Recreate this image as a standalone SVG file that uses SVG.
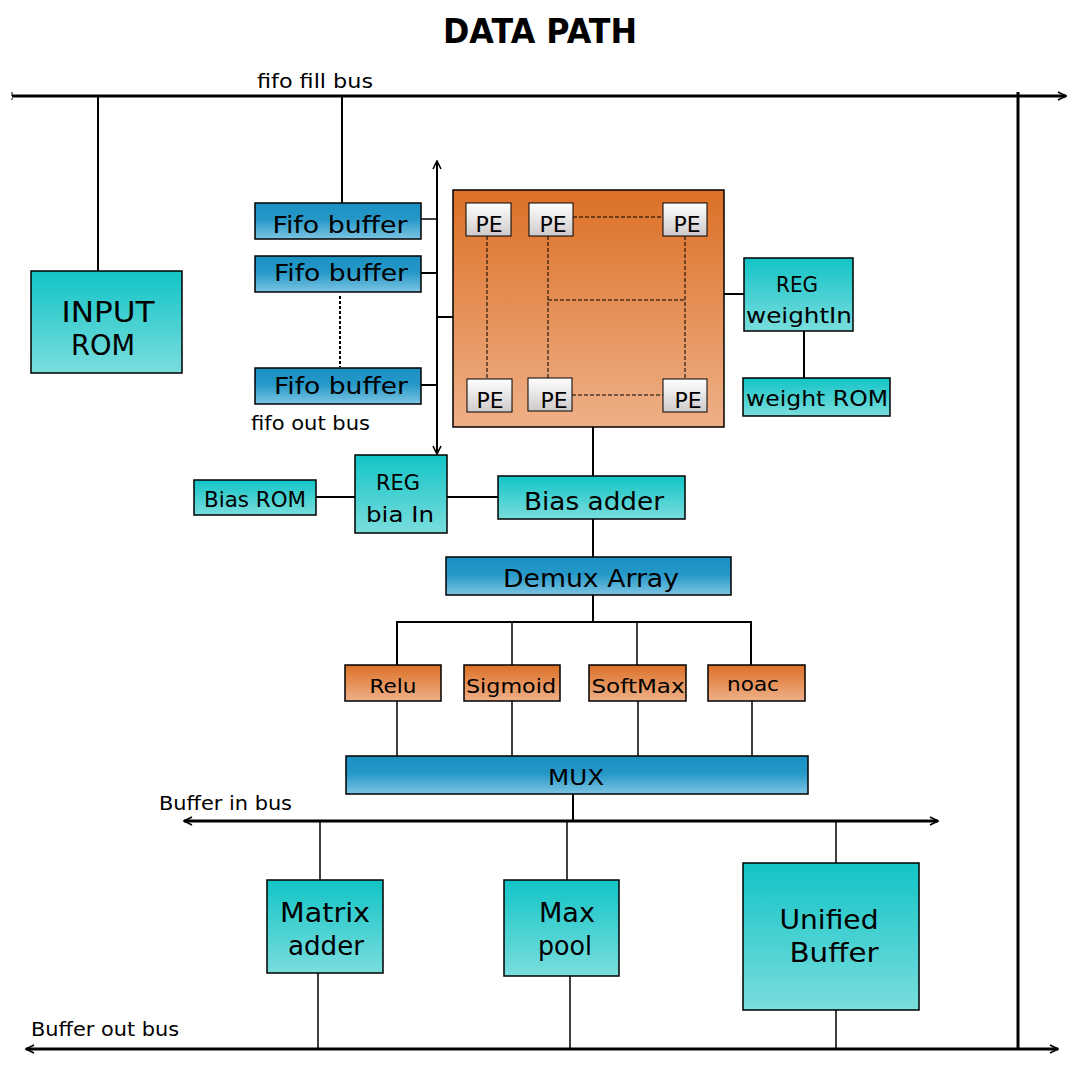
<svg xmlns="http://www.w3.org/2000/svg" width="1080" height="1080" viewBox="0 0 1080 1080">
<defs>
<linearGradient id="gTeal" x1="0" y1="0" x2="0" y2="1"><stop offset="0" stop-color="#12c4c6"/><stop offset="1" stop-color="#7adddd"/></linearGradient>
<linearGradient id="gBlue" x1="0" y1="0" x2="0" y2="1"><stop offset="0" stop-color="#1a90c2"/><stop offset="0.45" stop-color="#2598c8"/><stop offset="1" stop-color="#7cc4e2"/></linearGradient>
<linearGradient id="gOrange" x1="0" y1="0" x2="0" y2="1"><stop offset="0" stop-color="#dc7026"/><stop offset="1" stop-color="#efb088"/></linearGradient>
<linearGradient id="gPE" x1="0" y1="0" x2="0" y2="1"><stop offset="0" stop-color="#ffffff"/><stop offset="1" stop-color="#cfcaca"/></linearGradient>
<marker id="arr" viewBox="0 0 10 10" refX="9" refY="5" markerWidth="10" markerHeight="10" markerUnits="userSpaceOnUse" orient="auto-start-reverse">
<path d="M1,1 L9,5 L1,9" fill="none" stroke="#000" stroke-width="1.6"/>
</marker>
</defs>
<style>
text{font-family:"DejaVu Sans",sans-serif;fill:#000;text-anchor:middle}
.box{stroke:#000;stroke-width:1.5}
.teal{fill:url(#gTeal)}
.blue{fill:url(#gBlue)}
.orange{fill:url(#gOrange)}
.pe{fill:url(#gPE)}
.bus{stroke:#000;stroke-width:3;fill:none}
.ln{stroke:#000;stroke-width:2;fill:none}
.thin{stroke:#000;stroke-width:1.5;fill:none}
.dash{stroke:#000;stroke-width:1;stroke-dasharray:4 2;fill:none}
.lbl{text-anchor:start}
</style>
<rect width="1080" height="1080" fill="#fff"/>

<text x="540" y="43" font-size="34" font-weight="bold" textLength="194" lengthAdjust="spacingAndGlyphs">DATA PATH</text>

<g id="connectors">
<line class="bus" x1="12" y1="96" x2="1066" y2="96" marker-end="url(#arr)"/>
<line class="dash" x1="12" y1="92" x2="12" y2="100"/>
<line class="ln" x1="98" y1="96" x2="98" y2="271"/>
<line class="ln" x1="342" y1="96" x2="342" y2="203"/>
<line class="bus" x1="1018" y1="92" x2="1018" y2="1049"/>
<line class="dash" x1="340" y1="296" x2="340" y2="367" style="stroke-width:2;stroke-dasharray:3 2"/>
<line class="ln" x1="437" y1="454" x2="437" y2="161" marker-start="url(#arr)" marker-end="url(#arr)"/>
<line class="thin" x1="421" y1="219" x2="437" y2="219"/>
<line class="ln" x1="421" y1="273" x2="437" y2="273"/>
<line class="ln" x1="421" y1="385" x2="437" y2="385"/>
<line class="ln" x1="437" y1="317" x2="453" y2="317"/>
<line class="ln" x1="724" y1="294" x2="744" y2="294"/>
<line class="ln" x1="804" y1="331" x2="804" y2="378"/>
<line class="ln" x1="316" y1="497" x2="355" y2="497"/>
<line class="ln" x1="447" y1="497" x2="498" y2="497"/>
<line class="ln" x1="593" y1="427" x2="593" y2="476"/>
<line class="ln" x1="593" y1="519" x2="593" y2="557"/>
<line class="ln" x1="593" y1="595" x2="593" y2="622"/>
<polyline class="ln" points="397,665 397,622 751,622 751,665"/>
<line class="thin" x1="512" y1="622" x2="512" y2="665"/>
<line class="thin" x1="637" y1="622" x2="637" y2="665"/>
<line class="thin" x1="397" y1="701" x2="397" y2="756"/>
<line class="thin" x1="512" y1="701" x2="512" y2="756"/>
<line class="thin" x1="638" y1="701" x2="638" y2="756"/>
<line class="thin" x1="752" y1="701" x2="752" y2="756"/>
<line class="ln" x1="573" y1="794" x2="573" y2="821"/>
<line class="bus" x1="184" y1="821" x2="938" y2="821" marker-start="url(#arr)" marker-end="url(#arr)"/>
<line class="thin" x1="320" y1="821" x2="320" y2="880"/>
<line class="thin" x1="567" y1="821" x2="567" y2="880"/>
<line class="thin" x1="836" y1="821" x2="836" y2="863"/>
<line class="thin" x1="318" y1="973" x2="318" y2="1049"/>
<line class="thin" x1="570" y1="976" x2="570" y2="1049"/>
<line class="thin" x1="836" y1="1010" x2="836" y2="1049"/>
<line class="bus" x1="26" y1="1049" x2="1058" y2="1049" marker-start="url(#arr)" marker-end="url(#arr)"/>
</g>

<text class="lbl" x="257" y="88" font-size="19" textLength="116" lengthAdjust="spacingAndGlyphs">fifo fill bus</text>
<text class="lbl" x="251" y="430" font-size="19" textLength="119" lengthAdjust="spacingAndGlyphs">fifo out bus</text>
<text class="lbl" x="159" y="810" font-size="19" textLength="133" lengthAdjust="spacingAndGlyphs">Buffer in bus</text>
<text class="lbl" x="31" y="1036" font-size="19" textLength="148" lengthAdjust="spacingAndGlyphs">Buffer out bus</text>

<g id="input-rom">
<rect class="box teal" x="31" y="271" width="151" height="102"/>
<text x="108" y="322" font-size="29" textLength="93" lengthAdjust="spacingAndGlyphs">INPUT</text>
<text x="103" y="355" font-size="29" textLength="64" lengthAdjust="spacingAndGlyphs">ROM</text>
</g>

<g id="fifo1">
<rect class="box blue" x="255" y="203" width="166" height="36"/>
<text x="340" y="233" font-size="23" textLength="135" lengthAdjust="spacingAndGlyphs">Fifo buffer</text>
</g>
<g id="fifo2">
<rect class="box blue" x="255" y="256" width="166" height="36"/>
<text x="341" y="281" font-size="23" textLength="134" lengthAdjust="spacingAndGlyphs">Fifo buffer</text>
</g>
<g id="fifo3">
<rect class="box blue" x="255" y="368" width="166" height="36"/>
<text x="341" y="394" font-size="23" textLength="134" lengthAdjust="spacingAndGlyphs">Fifo buffer</text>
</g>

<g id="pe-array">
<rect class="box orange" x="453" y="190" width="271" height="237"/>
<line class="dash" x1="487" y1="236" x2="487" y2="379"/>
<line class="dash" x1="548" y1="236" x2="548" y2="378"/>
<line class="dash" x1="685" y1="236" x2="685" y2="379"/>
<line class="dash" x1="573" y1="217" x2="663" y2="217"/>
<line class="dash" x1="548" y1="300" x2="686" y2="300"/>
<line class="dash" x1="572" y1="395" x2="663" y2="395"/>
<g id="pe1"><rect class="box pe" x="466" y="203" width="45" height="33" style="stroke-width:1"/><text x="489" y="232" font-size="22">PE</text></g>
<g id="pe2"><rect class="box pe" x="529" y="203" width="44" height="33" style="stroke-width:1"/><text x="553" y="232" font-size="22">PE</text></g>
<g id="pe3"><rect class="box pe" x="663" y="203" width="44" height="33" style="stroke-width:1"/><text x="687" y="232" font-size="22">PE</text></g>
<g id="pe4"><rect class="box pe" x="467" y="379" width="45" height="33" style="stroke-width:1"/><text x="490" y="408" font-size="22">PE</text></g>
<g id="pe5"><rect class="box pe" x="528" y="378" width="44" height="33" style="stroke-width:1"/><text x="554" y="408" font-size="22">PE</text></g>
<g id="pe6"><rect class="box pe" x="663" y="379" width="44" height="33" style="stroke-width:1"/><text x="688" y="408" font-size="22">PE</text></g>
</g>

<g id="reg-weightin">
<rect class="box teal" x="744" y="258" width="109" height="73"/>
<text x="797" y="292" font-size="22" textLength="42" lengthAdjust="spacingAndGlyphs">REG</text>
<text x="799" y="323" font-size="22" textLength="106" lengthAdjust="spacingAndGlyphs">weightIn</text>
</g>
<g id="weight-rom">
<rect class="box teal" x="743" y="378" width="147" height="38"/>
<text x="817" y="406" font-size="22" textLength="142" lengthAdjust="spacingAndGlyphs">weight ROM</text>
</g>

<g id="bias-rom">
<rect class="box teal" x="194" y="480" width="122" height="35"/>
<text x="255" y="507" font-size="21" textLength="102" lengthAdjust="spacingAndGlyphs">Bias ROM</text>
</g>
<g id="reg-biain">
<rect class="box teal" x="355" y="455" width="92" height="78"/>
<text x="398" y="490" font-size="22" textLength="44" lengthAdjust="spacingAndGlyphs">REG</text>
<text x="400" y="522" font-size="22" textLength="68" lengthAdjust="spacingAndGlyphs">bia In</text>
</g>
<g id="bias-adder">
<rect class="box teal" x="498" y="476" width="187" height="43"/>
<text x="594" y="510" font-size="25" textLength="140" lengthAdjust="spacingAndGlyphs">Bias adder</text>
</g>
<g id="demux">
<rect class="box blue" x="446" y="557" width="285" height="38"/>
<text x="591" y="587" font-size="24" textLength="176" lengthAdjust="spacingAndGlyphs">Demux Array</text>
</g>

<g id="relu">
<rect class="box orange" x="345" y="665" width="96" height="36"/>
<text x="393" y="693" font-size="20" textLength="47" lengthAdjust="spacingAndGlyphs">Relu</text>
</g>
<g id="sigmoid">
<rect class="box orange" x="464" y="665" width="96" height="36"/>
<text x="511" y="693" font-size="20" textLength="90" lengthAdjust="spacingAndGlyphs">Sigmoid</text>
</g>
<g id="softmax">
<rect class="box orange" x="589" y="665" width="97" height="36"/>
<text x="638" y="693" font-size="20" textLength="93" lengthAdjust="spacingAndGlyphs">SoftMax</text>
</g>
<g id="noac">
<rect class="box orange" x="708" y="665" width="97" height="36"/>
<text x="753" y="691" font-size="20" textLength="52" lengthAdjust="spacingAndGlyphs">noac</text>
</g>

<g id="mux">
<rect class="box blue" x="346" y="756" width="462" height="38"/>
<text x="576" y="785" font-size="22" textLength="56" lengthAdjust="spacingAndGlyphs">MUX</text>
</g>

<g id="matrix-adder">
<rect class="box teal" x="267" y="880" width="116" height="93"/>
<text x="325" y="922" font-size="26" textLength="90" lengthAdjust="spacingAndGlyphs">Matrix</text>
<text x="326" y="955" font-size="26" textLength="76" lengthAdjust="spacingAndGlyphs">adder</text>
</g>
<g id="max-pool">
<rect class="box teal" x="504" y="880" width="115" height="96"/>
<text x="567" y="922" font-size="26" textLength="56" lengthAdjust="spacingAndGlyphs">Max</text>
<text x="565" y="955" font-size="26" textLength="54" lengthAdjust="spacingAndGlyphs">pool</text>
</g>
<g id="unified-buffer">
<rect class="box teal" x="743" y="863" width="176" height="147"/>
<text x="829" y="929" font-size="27" textLength="99" lengthAdjust="spacingAndGlyphs">Unified</text>
<text x="834" y="962" font-size="27" textLength="89" lengthAdjust="spacingAndGlyphs">Buffer</text>
</g>
</svg>
